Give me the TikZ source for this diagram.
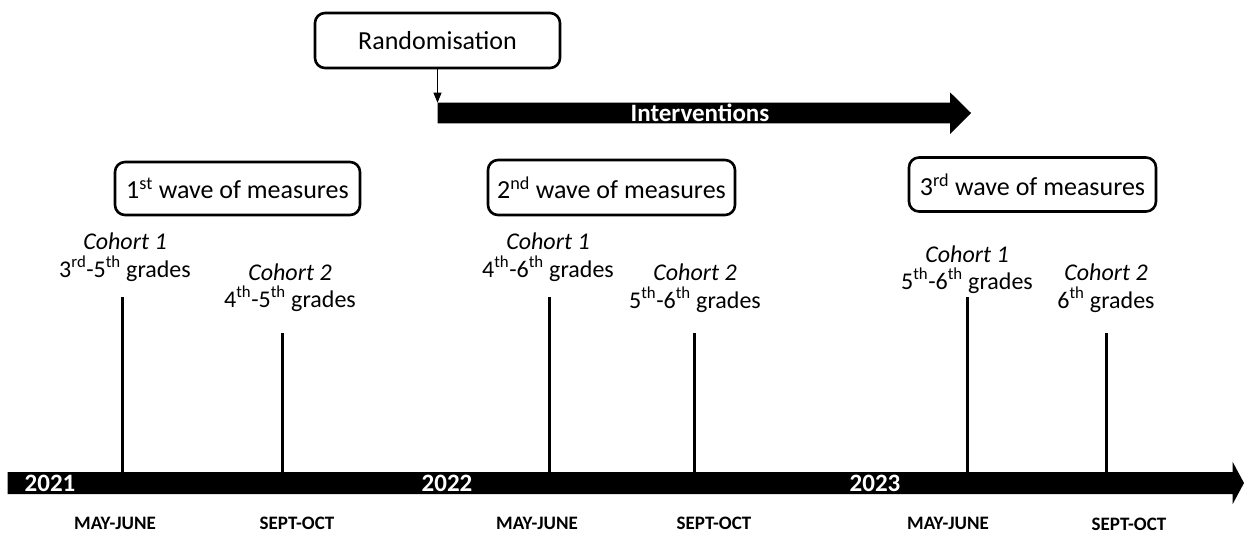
\documentclass[tikz,border=0pt]{standalone}
\usepackage{fontspec}
\setmainfont{Carlito}
\usetikzlibrary{arrows.meta}
\begin{document}
\begin{tikzpicture}[x=1pt,y=-1pt,
  wavebox/.style={draw, line width=2.6pt, rounded corners=10pt, minimum width=245pt, minimum height=54pt, inner sep=0pt, font=\fontsize{26}{30}\selectfont},
  cohort/.style={anchor=base, font=\fontsize{24}{28}\selectfont\itshape},
  grades/.style={anchor=base, font=\fontsize{24}{28}\selectfont},
  tickline/.style={line width=3pt},
  month/.style={anchor=base, inner sep=0.5pt, font=\fontsize{19}{22}\selectfont\bfseries},
  yearlbl/.style={anchor=base, text=white, font=\fontsize{25}{30}\selectfont\bfseries},
  barfill/.style={fill=black}]
\useasboundingbox (0,0) rectangle (1244,533);

% boxes
\node[wavebox, minimum height=55pt] (rand) at (437.5,40.5) {Randomisation};
\node[wavebox, minimum height=53pt] (w1) at (237.5,188.5) {1\textsuperscript{st} wave of measures};
\node[wavebox, minimum width=247pt, minimum height=55pt] (w2) at (611.5,187.5) {2\textsuperscript{nd} wave of measures};
\node[wavebox, minimum width=247pt] (w3) at (1032.5,184.5) {3\textsuperscript{rd} wave of measures};

% interventions arrow
\fill[barfill] (437.5,102.7) -- (950,102.7) -- (950,92.3) -- (971,113) -- (950,134) -- (950,123.3) -- (437.5,123.3) -- cycle;
\coordinate (ibar) at (437.5,102.7);
\node[anchor=base, text=white, font=\fontsize{25}{30}\selectfont\bfseries] (interv) at (700,121) {Interventions};
\draw[line width=0.8pt, -{Triangle[length=10pt,width=8pt]}] (rand.south) -- (ibar);

% timeline
\fill[barfill] (7.5,472) -- (1232.7,472) -- (1232.7,462) -- (1244,483) -- (1232.7,504) -- (1232.7,494) -- (7.5,494) -- cycle;
\node[yearlbl] (y1) at (50,491.5) {2021};
\node[yearlbl] (y2) at (447,491.5) {2022};
\node[yearlbl] (y3) at (875,491.5) {2023};

% ticks
\coordinate (t1) at (122,297);  \coordinate (b1) at (122,472);
\coordinate (t2) at (282,333);  \coordinate (b2) at (282,472);
\coordinate (t3) at (549,297);  \coordinate (b3) at (549,472);
\coordinate (t4) at (694,333);  \coordinate (b4) at (694,472);
\coordinate (t5) at (967,297);  \coordinate (b5) at (967,472);
\coordinate (t6) at (1106,333); \coordinate (b6) at (1106,472);
\draw[tickline] (t1) -- (b1);
\draw[tickline] (t2) -- (b2);
\draw[tickline] (t3) -- (b3);
\draw[tickline] (t4) -- (b4);
\draw[tickline] (t5) -- (b5);
\draw[tickline] (t6) -- (b6);

% cohort labels
\node[cohort] (c1a) at (125,249) {Cohort 1};
\node[grades] (c1b) at (125,277) {3\textsuperscript{rd}-5\textsuperscript{th} grades};
\node[cohort] (c2a) at (290,280) {Cohort 2};
\node[grades] (c2b) at (290,307) {4\textsuperscript{th}-5\textsuperscript{th} grades};
\node[cohort] (c3a) at (548,249) {Cohort 1};
\node[grades] (c3b) at (548,277) {4\textsuperscript{th}-6\textsuperscript{th} grades};
\node[cohort] (c4a) at (695,280) {Cohort 2};
\node[grades] (c4b) at (695,308) {5\textsuperscript{th}-6\textsuperscript{th} grades};
\node[cohort] (c5a) at (967,262) {Cohort 1};
\node[grades] (c5b) at (967,289) {5\textsuperscript{th}-6\textsuperscript{th} grades};
\node[cohort] (c6a) at (1106,280) {Cohort 2};
\node[grades] (c6b) at (1106,308) {6\textsuperscript{th} grades};

% months
\node[month] (m1) at (115,529.5) {MAY-JUNE};
\node[month] (m2) at (297,529.5) {SEPT-OCT};
\node[month] (m3) at (537,529.5) {MAY-JUNE};
\node[month] (m4) at (714,529.5) {SEPT-OCT};
\node[month] (m5) at (948,529.5) {MAY-JUNE};
\node[month] (m6) at (1129,530) {SEPT-OCT};
\end{tikzpicture}
\end{document}
